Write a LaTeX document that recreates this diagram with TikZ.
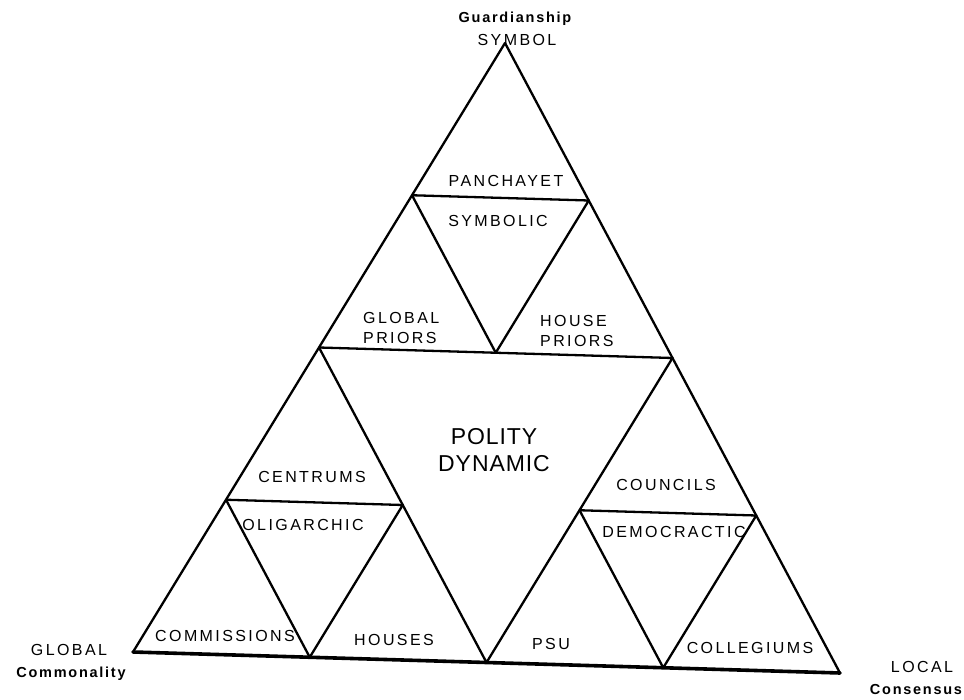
\documentclass[tikz,border=0pt]{standalone}
\usepackage{fontspec}
\setmainfont{Liberation Sans}
\newfontfamily\lblfont[LetterSpace=15]{Liberation Sans}
\newfontfamily\bigfont[LetterSpace=4]{Liberation Sans}
\newfontfamily\capfont[LetterSpace=12]{Liberation Sans}
\usetikzlibrary{calc}
\tikzset{
  edge/.style={line width=2.3pt, line join=round, line cap=round},
  baseedge/.style={line width=3.6pt, line cap=round},
  lbl/.style={font=\lblfont\fontsize{16}{20}\selectfont, inner sep=0pt},
  big/.style={font=\bigfont\fontsize{23}{27}\selectfont, align=center, inner sep=0pt},
  corner/.style={font=\capfont\bfseries\fontsize{14.5}{17}\selectfont, inner sep=0pt},
}
\begin{document}
\begin{tikzpicture}[x=1pt,y=-1pt]
\useasboundingbox (0,0) rectangle (964,700);
% main vertices
\coordinate (A) at (505,43);
\coordinate (B) at (133,652);
\coordinate (C) at (840,673);
% midpoints of the outer triangle
\coordinate (AB) at ($(A)!0.5!(B)$);
\coordinate (AC) at ($(A)!0.5!(C)$);
\coordinate (BC) at ($(B)!0.5!(C)$);
% top sub-triangle
\coordinate (pA) at ($(A)!0.5!(AB)$);
\coordinate (pB) at ($(A)!0.5!(AC)$);
\coordinate (pC) at ($(AB)!0.5!(AC)$);
% left sub-triangle
\coordinate (qA) at ($(AB)!0.5!(B)$);
\coordinate (qB) at ($(AB)!0.5!(BC)$);
\coordinate (qC) at ($(B)!0.5!(BC)$);
% right sub-triangle
\coordinate (rA) at ($(AC)!0.5!(BC)$);
\coordinate (rB) at ($(AC)!0.5!(C)$);
\coordinate (rC) at ($(BC)!0.5!(C)$);

\draw[edge] (B) -- (A) -- (C);
\draw[baseedge] (B) -- (C);
\draw[edge] (AB) -- (AC) -- (BC) -- cycle;
\draw[edge] (pA) -- (pB) -- (pC) -- cycle;
\draw[edge] (qA) -- (qB) -- (qC) -- cycle;
\draw[edge] (rA) -- (rB) -- (rC) -- cycle;

\node[corner, anchor=base] (guard) at (515,23) {Guardianship};
\node[lbl] (symbol) at (517,40) {SYMBOL};
\node[lbl] (panch) at (506,181) {PANCHAYET};
\node[lbl] (symb) at (498,221) {SYMBOLIC};
\node[lbl, align=left, anchor=west] (gp) at (363,327.5) {GLOBAL\\PRIORS};
\node[lbl, align=left, anchor=west] (hp) at (540,330.5) {HOUSE\\PRIORS};
\node[big] (polity) at (494,450) {POLITY\\DYNAMIC};
\node[lbl] (centr) at (312,477) {CENTRUMS};
\node[lbl] (olig) at (303,525) {OLIGARCHIC};
\node[lbl] (comm) at (225,636) {COMMISSIONS};
\node[lbl] (houses) at (394,640) {HOUSES};
\node[lbl] (counc) at (666,485) {COUNCILS};
\node[lbl] (democ) at (674,532) {DEMOCRACTIC};
\node[lbl] (psu) at (551,644) {PSU};
\node[lbl] (coll) at (750,648) {COLLEGIUMS};
\node[lbl] (glob) at (69,650) {GLOBAL};
\node[corner, anchor=base] (commty) at (71,677) {Commonality};
\node[lbl] (local) at (922,667) {LOCAL};
\node[corner, anchor=base] (cons) at (916,694) {Consensus};
\end{tikzpicture}
\end{document}
